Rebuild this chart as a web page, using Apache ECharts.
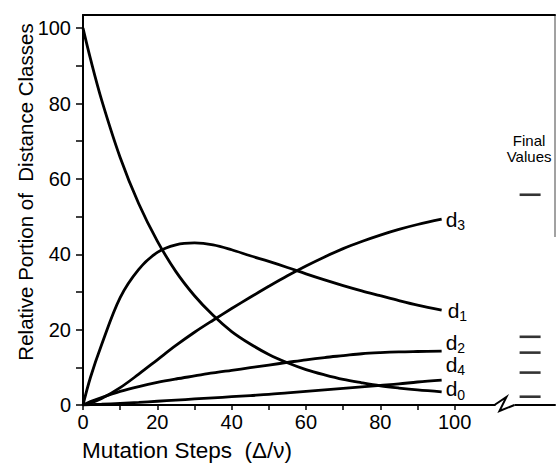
<!DOCTYPE html>
<html>
<head>
<meta charset="utf-8">
<script src="https://cdn.jsdelivr.net/npm/echarts@6.0.0/dist/echarts.min.js"></script>
<style>
    html, body { margin: 0; padding: 0; background: #fff; }
    #chart { width: 557px; height: 464px; }
</style>
</head>
<body>
<div id="chart"></div>
<script>
// mutation steps sampled along the curves
const steps = [0, 2, 5, 10, 15, 20, 25, 30, 35, 40, 45, 50, 55, 60, 65, 70, 75, 80, 85, 90, 96.5];

// relative portion (%) of each distance class
const d0 = [100, 91.9, 81, 65.7, 53.4, 43.5, 35.4, 29, 23.8, 19.5, 16.2, 13.4, 11.2, 9.4, 8, 6.8, 5.9, 5.1, 4.5, 4, 3.5];
const d1 = [0, 7.3, 16, 28.5, 36, 40.5, 42.5, 43, 42.5, 41.2, 39.6, 38.1, 36.5, 34.8, 33.2, 31.7, 30.3, 29, 27.7, 26.5, 25.2];
const d2 = [0, 0.9, 2, 3.6, 4.9, 6, 6.9, 7.7, 8.5, 9.2, 9.9, 10.6, 11.3, 12, 12.6, 13.1, 13.6, 13.9, 14.1, 14.2, 14.3];
const d3 = [0, 0.5, 1.7, 4.6, 8.2, 12, 15.8, 19.3, 22.5, 25.6, 28.6, 31.5, 34.3, 36.9, 39.3, 41.5, 43.4, 45.1, 46.6, 47.9, 49.3];
const d4 = [0, 0.1, 0.2, 0.45, 0.7, 1, 1.3, 1.6, 1.9, 2.2, 2.5, 2.8, 3.2, 3.6, 4, 4.4, 4.8, 5.2, 5.6, 6.1, 6.6];

// final values shown to the right of the axis break
const finalValues = [55.8, 18.1, 13.9, 8.6, 2.2];

// tick labels
const xTicks = [0, 10, 20, 30, 40, 50, 60, 70, 80, 90, 100];
const xLabels = [0, 20, 40, 60, 80, 100];
const yTicks = [0, 10, 20, 30, 40, 50, 60, 70, 80, 90, 100];
const yLabels = [0, 20, 40, 60, 80, 100];

const FONT = '"Liberation Sans", Arial, Helvetica, sans-serif';
const FINAL_X = 120.3;   // column for the final value dashes
const BREAK_X = 113.4;   // where the x axis is broken

const chart = echarts.init(document.getElementById('chart'), null, { renderer: 'svg' });

function curve(name, values, sub, offset) {
    return {
        name: name,
        type: 'line',
        smooth: 0.35,
        symbol: 'none',
        silent: true,
        lineStyle: { color: '#000', width: 2.8 },
        data: steps.map((x, i) => [x, values[i]]),
        endLabel: {
            show: true,
            distance: 4,
            offset: offset,
            formatter: '{d|d}{s|' + sub + '}',
            rich: {
                d: { fontFamily: FONT, fontSize: 21, color: '#000' },
                s: { fontFamily: FONT, fontSize: 14, color: '#000', padding: [12, 0, 0, 0] }
            }
        }
    };
}

// plain text element for the graphic layer
function label(text, x, y, size, extra) {
    return Object.assign({
        type: 'text',
        x: x,
        y: y,
        style: {
            text: text,
            fontSize: size,
            fontFamily: FONT,
            fill: '#000',
            align: 'center',
            verticalAlign: 'middle'
        }
    }, extra || {});
}

const option = {
    backgroundColor: '#fff',
    animation: false,
    grid: { left: 83, top: 15, right: 2, bottom: 59 },
    xAxis: [
        {
            type: 'value',
            min: 0,
            max: 127,
            splitLine: { show: false },
            axisLine: { lineStyle: { color: '#000', width: 2 } },
            axisTick: { length: 5, lineStyle: { color: '#000', width: 1.5 }, customValues: xTicks },
            axisLabel: {
                customValues: xLabels,
                margin: 7,
                color: '#000',
                fontFamily: FONT,
                fontSize: 20
            }
        },
        {
            // top frame line
            type: 'value',
            position: 'top',
            min: 0,
            max: 127,
            splitLine: { show: false },
            axisLine: { lineStyle: { color: '#000', width: 2 } },
            axisTick: { show: false },
            axisLabel: { show: false }
        }
    ],
    yAxis: {
        type: 'value',
        min: 0,
        max: 103.5,
        splitLine: { show: false },
        axisLine: { lineStyle: { color: '#000', width: 2 } },
        axisTick: { length: 7, lineStyle: { color: '#000', width: 1.5 }, customValues: yTicks },
        axisLabel: {
            customValues: yLabels,
            margin: 12,
            color: '#000',
            fontFamily: FONT,
            fontSize: 20
        }
    },
    series: [
        curve('d0', d0, '0', [0, -3]),
        curve('d1', d1, '1', [2, 0]),
        curve('d2', d2, '2', [0, -9]),
        curve('d3', d3, '3', [0, 0]),
        curve('d4', d4, '4', [0, -16]),
        {
            name: 'final',
            type: 'scatter',
            silent: true,
            symbol: 'rect',
            symbolSize: [21, 2.6],
            itemStyle: { color: '#000' },
            data: finalValues.map(v => [FINAL_X, v])
        }
    ]
};

chart.setOption(option);

// decorations: axis titles, "Final Values", axis break, right frame edge
const bx = chart.convertToPixel({ xAxisIndex: 0 }, BREAK_X);
const by = chart.convertToPixel({ yAxisIndex: 0 }, 0);
const fx = chart.convertToPixel({ xAxisIndex: 0 }, FINAL_X);

const yTitle = label('Relative Portion of  Distance Classes', 25, 192, 20.5, { rotation: Math.PI / 2 });
const xTitle = label('Mutation Steps  (\u0394/\u03bd)', 82, 450, 22.5);
xTitle.style.align = 'left';

chart.setOption({
    graphic: [
        yTitle,
        xTitle,
        label('Final', fx - 1, 140, 15),
        label('Values', fx - 1, 156, 15),
        {
            type: 'rect',
            shape: { x: bx - 9, y: by - 3, width: 19, height: 6 },
            style: { fill: '#fff' },
            z: 100
        },
        {
            type: 'polyline',
            shape: { points: [[bx - 10, by], [bx + 2, by - 8], [bx - 5, by + 6], [bx + 10, by]] },
            style: { stroke: '#000', lineWidth: 2, fill: null },
            z: 101
        },
        {
            type: 'line',
            shape: { x1: 555, y1: 15, x2: 555, y2: 237 },
            style: { stroke: '#444', lineWidth: 1 }
        }
    ]
});
</script>
</body>
</html>
